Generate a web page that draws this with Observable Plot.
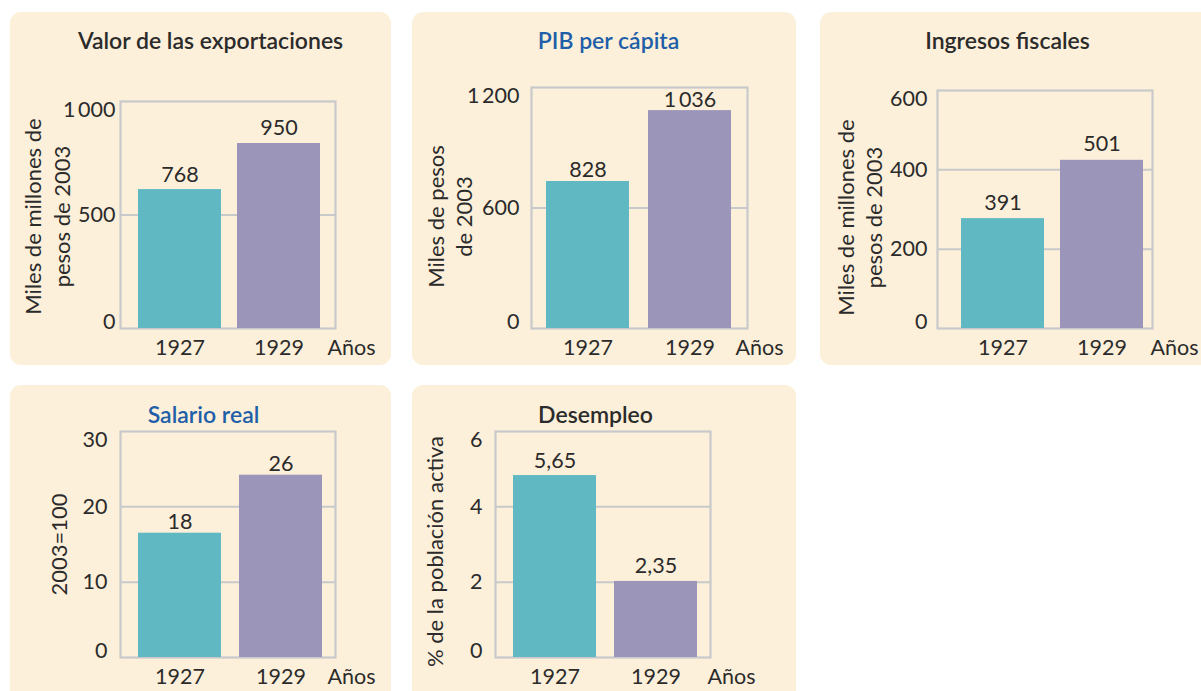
<!DOCTYPE html>
<html><head><meta charset="utf-8">
<script src="https://cdn.jsdelivr.net/npm/d3@7"></script>
<script src="https://cdn.jsdelivr.net/npm/@observablehq/plot@0.6"></script>
<style>
html,body{margin:0;padding:0;background:#fff;width:1201px;height:691px;overflow:hidden;}
.panel{position:absolute;background:#fdf0da;border-radius:11px;overflow:hidden;}
.panel svg{position:absolute;left:0;top:0;}
</style></head><body>
<div id="root"></div>
<script>
// ---- data ----
const years = ["1927", "1929"];
const barColors = ["#60b8c2", "#9c95ba"];

const exportTitle = "Valor de las exportaciones";
const exportValues = [612, 815];
const exportLabels = ["768", "950"];
const exportTicks = [0, 500, 1000];
const exportTickLabels = ["0", "500", "1\u2009000"];
const exportAxisLabel = "Miles de millones de\npesos de 2003";

const pibTitle = "PIB per cápita";
const pibValues = [732, 1085];
const pibLabels = ["828", "1\u2009036"];
const pibTicks = [0, 600, 1200];
const pibTickLabels = ["0", "600", "1\u2009200"];
const pibAxisLabel = "Miles de pesos\nde 2003";

const fiscalTitle = "Ingresos fiscales";
const fiscalValues = [277, 424];
const fiscalLabels = ["391", "501"];
const fiscalTicks = [0, 200, 400, 600];
const fiscalTickLabels = ["0", "200", "400", "600"];
const fiscalAxisLabel = "Miles de millones de\npesos de 2003";

const salarioTitle = "Salario real";
const salarioValues = [16.5, 24.2];
const salarioLabels = ["18", "26"];
const salarioTicks = [0, 10, 20, 30];
const salarioTickLabels = ["0", "10", "20", "30"];
const salarioAxisLabel = "2003=100";

const desempleoTitle = "Desempleo";
const desempleoValues = [4.83, 2.02];
const desempleoLabels = ["5,65", "2,35"];
const desempleoTicks = [0, 2, 4, 6];
const desempleoTickLabels = ["0", "2", "4", "6"];
const desempleoAxisLabel = "% de la población activa";

const xUnit = "Años";

// ---- layout (page pixels) ----
const TEXT = "#2b2b2b", BLUE = "#1f5ea8", GRID = "#c8c9cb";
const FS = 21.5, TITLE_FS = 23, YLAB_FS = 22;
const panels = [
  {title: exportTitle, values: exportValues, labels: exportLabels, ticks: exportTicks, tickLabels: exportTickLabels, axisLabel: exportAxisLabel,
   panel: {x: 10, y: 12, w: 381, h: 353}, frame: {l: 120, t: 101, r: 335, b: 328}, bars: {l: 138, r: 320, gap: 16},
   titlePos: {x: 210, y: 48, color: TEXT}, tickPad: 5, yLab: {x: 46, dy: 1.5}, unitX: 327, labelDy: -8},
  {title: pibTitle, values: pibValues, labels: pibLabels, ticks: pibTicks, tickLabels: pibTickLabels, axisLabel: pibAxisLabel,
   panel: {x: 412, y: 12, w: 384, h: 353}, frame: {l: 531, t: 87, r: 747, b: 328}, bars: {l: 546, r: 731, gap: 19},
   titlePos: {x: 608, y: 48, color: BLUE}, tickPad: 12, yLab: {x: 448.5, dy: 8.5}, unitX: 735, labelDy: -4},
  {title: fiscalTitle, values: fiscalValues, labels: fiscalLabels, ticks: fiscalTicks, tickLabels: fiscalTickLabels, axisLabel: fiscalAxisLabel,
   panel: {x: 820, y: 12, w: 400, h: 353}, frame: {l: 937, t: 90, r: 1152, b: 328}, bars: {l: 961, r: 1143, gap: 16},
   titlePos: {x: 1007, y: 48, color: TEXT}, tickPad: 10, yLab: {x: 858.5, dy: 8}, unitX: 1150, labelDy: -9},
  {title: salarioTitle, values: salarioValues, labels: salarioLabels, ticks: salarioTicks, tickLabels: salarioTickLabels, axisLabel: salarioAxisLabel,
   panel: {x: 10, y: 385, w: 381, h: 320}, frame: {l: 120, t: 431, r: 335, b: 657}, bars: {l: 138, r: 322, gap: 18},
   titlePos: {x: 203, y: 422, color: BLUE}, tickPad: 13, yLab: {x: 57, dy: 0}, unitX: 327, labelDy: -4},
  {title: desempleoTitle, values: desempleoValues, labels: desempleoLabels, ticks: desempleoTicks, tickLabels: desempleoTickLabels, axisLabel: desempleoAxisLabel,
   panel: {x: 412, y: 385, w: 384, h: 320}, frame: {l: 495, t: 431, r: 710, b: 657}, bars: {l: 513, r: 697, gap: 18},
   titlePos: {x: 595, y: 422, color: TEXT}, tickPad: 13, yLab: {x: 433, dy: 7}, unitX: 707, labelDy: -8}
];

const root = document.getElementById("root");
const FONT = "Lato, 'Open Sans', sans-serif";

for (const p of panels) {
  const div = document.createElement("div");
  div.className = "panel";
  Object.assign(div.style, {left: p.panel.x + "px", top: p.panel.y + "px", width: p.panel.w + "px", height: p.panel.h + "px"});
  root.appendChild(div);

  const ox = p.panel.x, oy = p.panel.y;
  const mL = p.frame.l - ox, mT = p.frame.t - oy;
  const mR = p.panel.w - (p.frame.r - ox), mB = p.panel.h - (p.frame.b - oy);
  const bw = ((p.bars.r - p.bars.l) - p.bars.gap) / 2;
  const pi = p.bars.gap / (bw + p.bars.gap);
  const rows = years.map((yr, i) => ({year: yr, value: p.values[i], label: p.labels[i]}));
  const tickRows = p.ticks.map((t, i) => ({t, s: p.tickLabels[i]}));
  const last = tickRows.length - 1;

  const chart = Plot.plot({
    width: p.panel.w, height: p.panel.h,
    marginLeft: mL, marginTop: mT, marginRight: mR, marginBottom: mB,
    style: {background: "transparent", fontFamily: FONT, fontSize: FS + "px", color: TEXT, overflow: "visible"},
    x: {type: "band", domain: years, range: [p.bars.l - ox, p.bars.r - ox], paddingInner: pi, paddingOuter: 0, axis: null},
    y: {domain: [p.ticks[0], p.ticks[last]], axis: null},
    color: {domain: years, range: barColors},
    marks: [
      Plot.ruleY(p.ticks.slice(1, -1), {stroke: GRID, strokeWidth: 2}),
      Plot.frame({stroke: GRID, strokeWidth: 2.2}),
      Plot.barY(rows, {x: "year", y: "value", fill: "year"}),
      Plot.text(rows, {x: "year", y: "value", text: "label", lineAnchor: "bottom", dy: p.labelDy, fill: TEXT, fontSize: FS}),
      // y tick labels
      Plot.text(tickRows.slice(0, 1), {y: "t", text: "s", frameAnchor: "left", textAnchor: "end", lineAnchor: "bottom", dx: -p.tickPad, fill: TEXT, fontSize: FS}),
      Plot.text(tickRows.slice(1, last), {y: "t", text: "s", frameAnchor: "left", textAnchor: "end", lineAnchor: "middle", dx: -p.tickPad, fill: TEXT, fontSize: FS}),
      Plot.text(tickRows.slice(last), {y: "t", text: "s", frameAnchor: "left", textAnchor: "end", lineAnchor: "top", dx: -p.tickPad, fill: TEXT, fontSize: FS}),
      // x tick labels
      Plot.text(years, {x: d => d, frameAnchor: "bottom", lineAnchor: "bottom", dy: 26, fill: TEXT, fontSize: FS}),
      Plot.text([xUnit], {frameAnchor: "bottom-left", textAnchor: "start", lineAnchor: "bottom", dx: p.unitX - p.frame.l, dy: 26, fill: TEXT, fontSize: FS}),
      // y axis label
      Plot.text([p.axisLabel], {frameAnchor: "left", rotate: -90, textAnchor: "middle", lineAnchor: "middle", lineHeight: 1.3, dx: p.yLab.x - p.frame.l, dy: p.yLab.dy, fill: TEXT, fontSize: YLAB_FS}),
      // title
      Plot.text([p.title], {frameAnchor: "top-left", textAnchor: "middle", lineAnchor: "bottom", dx: p.titlePos.x - p.frame.l, dy: p.titlePos.y - p.frame.t, fill: p.titlePos.color, fontSize: TITLE_FS, fontWeight: 600})
    ]
  });
  div.appendChild(chart);
}
</script>
</body></html>
